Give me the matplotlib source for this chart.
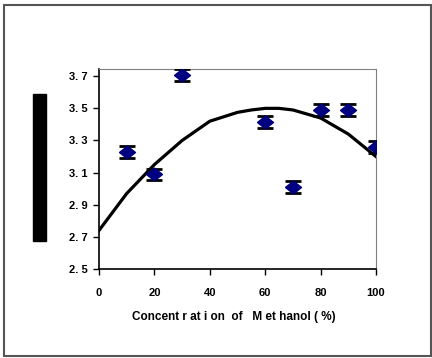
import matplotlib.pyplot as plt
from matplotlib.patches import Rectangle

plt.rcParams['font.family'] = ['Liberation Sans', 'DejaVu Sans']

# measured points
conc = [10, 20, 30, 60, 70, 80, 90, 100]
value = [3.23, 3.09, 3.71, 3.415, 3.01, 3.49, 3.49, 3.26]
err = [0.038, 0.035, 0.038, 0.038, 0.035, 0.038, 0.038, 0.038]

# trend line
fit_x = [0, 10, 20, 30, 40, 50, 55, 60, 65, 70, 80, 90, 100]
fit_y = [2.74, 2.97, 3.15, 3.30, 3.42, 3.475, 3.49, 3.50, 3.50, 3.49, 3.44, 3.34, 3.20]

xticks = [0, 20, 40, 60, 80, 100]
yticks = [2.5, 2.7, 2.9, 3.1, 3.3, 3.5, 3.7]
ytick_labels = ["2. 5", "2. 7", "2. 9", "3. 1", "3. 3", "3. 5", "3. 7"]

fig = plt.figure(figsize=(4.32, 3.58), dpi=100)
ax = fig.add_axes([99/432, 1 - 269/358, 277/432, 200/358])

ax.plot(fit_x, fit_y, color="black", lw=2.3, zorder=2)
# wide, slightly flat diamond
diamond = [(-1, 0), (0, 0.8), (1, 0), (0, -0.8), (-1, 0)]
ax.errorbar(conc, value, yerr=err, fmt="none", ecolor="black",
            elinewidth=1, capsize=6, capthick=2, zorder=3)
ax.plot(conc, value, linestyle="none", marker=diamond, color="#000080",
        ms=11.5, zorder=4)

ax.set_xlim(0, 100)
ax.set_ylim(2.5, 3.745)
ax.set_xticks(xticks)
ax.set_xticklabels([str(t) for t in xticks], fontsize=8, fontweight="bold")
ax.set_yticks(yticks)
ax.set_yticklabels(ytick_labels, fontsize=8, fontweight="bold")
ax.tick_params(direction="out", length=4, width=1, pad=10)
ax.tick_params(axis="y", pad=4)

for s in ["top", "right"]:
    ax.spines[s].set_color("#808080")
ax.spines["left"].set_linewidth(1.2)
ax.spines["bottom"].set_linewidth(1.2)

fig.text(234/432, 1 - 317/358, "Concent r at i on  of   M et hanol ( %)",
         ha="center", va="center", fontsize=8.5, fontweight="bold")

# blacked-out y-axis label
fig.patches.append(Rectangle((33/432, 1 - 241/358), 13/432, 147/358,
                             transform=fig.transFigure, color="black"))
# outer frame
fig.patches.append(Rectangle((3.5/432, 1 - 356/358), 427/432, 351.5/358,
                             transform=fig.transFigure, fill=False,
                             edgecolor="#555555", lw=1.5))

fig.savefig("out.png", dpi=100)
